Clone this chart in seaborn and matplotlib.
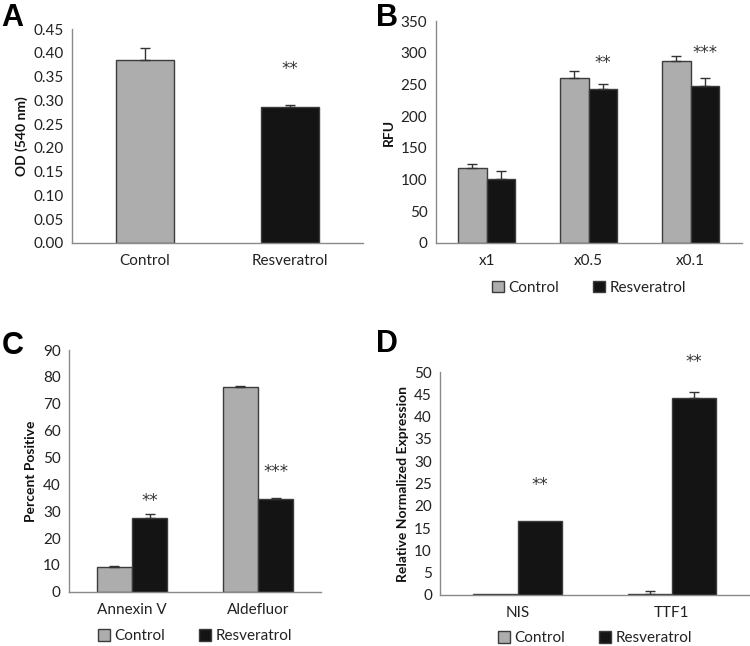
import numpy as np
import pandas as pd
import matplotlib
matplotlib.use('Agg')
import matplotlib.pyplot as plt
import matplotlib.patches as mpatches
import seaborn as sns

# ---- data ----
A_groups = ['Control', 'Resveratrol']
A_vals = [0.385, 0.287]
A_err = [0.026, 0.004]

B_groups = ['x1', 'x0.5', 'x0.1']
B_control = [118, 261, 288]
B_control_err = [7, 11, 8]
B_resv = [101, 243, 248]
B_resv_err = [13, 8, 13]

C_groups = ['Annexin V', 'Aldefluor']
C_control = [9.2, 76.4]
C_control_err = [0.5, 0.3]
C_resv = [27.5, 34.5]
C_resv_err = [1.5, 0.5]

D_groups = ['NIS', 'TTF1']
D_control = [0.3, 0.3]
D_control_err = [0.0, 0.5]
D_resv = [16.5, 44.1]
D_resv_err = [0.0, 1.5]

# significance marks: (hue index, category index, label, y)
A_stars = [(1, 0, '**', 0.366)]
B_stars = [(1, 1, '**', 284), (1, 2, '***', 300)]
C_stars = [(1, 0, '**', 33.8), (1, 1, '***', 44.6)]
D_stars = [(1, 0, '**', 24.7), (1, 1, '**', 52.2)]

TREAT = ['Control', 'Resveratrol']
PAL = {'Control': '#ADADAD', 'Resveratrol': '#141414'}
EDGE = '#3C3C3C'
SPINE = '#8A8A8A'

sns.set_theme(style='white')
plt.rcParams.update({
    'font.family': ['Lato', 'DejaVu Sans'],
    'axes.edgecolor': SPINE, 'axes.linewidth': 1.0,
    'xtick.color': SPINE, 'ytick.color': SPINE,
    'xtick.labelcolor': '#222222', 'ytick.labelcolor': '#222222',
    'xtick.labelsize': 11, 'ytick.labelsize': 11,
})


def long_df(groups, ctrl, resv):
    return pd.DataFrame({
        'group': list(groups) * 2,
        'treat': ['Control'] * len(groups) + ['Resveratrol'] * len(groups),
        'value': list(ctrl) + list(resv),
    })


def panel(ax, df, errs, width, ylim, yticks, fmt, ylabel, stars):
    sns.barplot(data=df, x='group', y='value', hue='treat', hue_order=TREAT,
                palette=PAL, width=width, edgecolor=EDGE, linewidth=1,
                ax=ax, legend=False, errorbar=None)
    centers = []
    for cont, err in zip(ax.containers, errs):
        cx = []
        for bar, e in zip(cont, err):
            x = bar.get_x() + bar.get_width() / 2
            h = bar.get_height()
            cx.append(x)
            if e > 0:
                ax.errorbar(x, h, yerr=[[0], [e]], fmt='none', ecolor='#333333',
                            elinewidth=1, capsize=3.5, capthick=1)
        centers.append(cx)
    for hi, ci, lab, y in stars:
        ax.text(centers[hi][ci], y, lab, ha='center', va='center', fontsize=12,
                family='DejaVu Sans', color='#333333', clip_on=False)
    n = df['group'].nunique()
    ax.set_xlim(-0.5, n - 0.5)
    ax.set_ylim(*ylim)
    ax.set_yticks(yticks)
    ax.set_yticklabels([fmt.format(t) for t in yticks])
    ax.set_xticks(np.arange(-0.5, n), minor=True)
    ax.tick_params(axis='x', which='major', length=0, pad=8)
    ax.tick_params(axis='x', which='minor', length=4, width=1, direction='out')
    ax.tick_params(axis='y', length=4, width=1, direction='out', pad=2)
    ax.set_xlabel('')
    ax.set_ylabel(ylabel, fontsize=10, fontweight='bold', color='#111111')
    sns.despine(ax=ax)


fig = plt.figure(figsize=(7.5, 6.46), dpi=100)
axA = fig.add_axes([0.096, 0.624, 0.388, 0.331])
axB = fig.add_axes([0.581, 0.624, 0.408, 0.343])
axC = fig.add_axes([0.092, 0.084, 0.336, 0.374])
axD = fig.add_axes([0.587, 0.079, 0.412, 0.345])

# A: one bar per category
dfA = pd.DataFrame({'group': A_groups, 'treat': A_groups, 'value': A_vals})
panel(axA, dfA, [[A_err[0]], [A_err[1]]], 0.4, (0, 0.45),
      np.round(np.arange(0, 0.451, 0.05), 2), '{:.2f}', 'OD (540 nm)', A_stars)

panel(axB, long_df(B_groups, B_control, B_resv), [B_control_err, B_resv_err], 0.56,
      (0, 350), np.arange(0, 351, 50), '{:.0f}', 'RFU', B_stars)
panel(axC, long_df(C_groups, C_control, C_resv), [C_control_err, C_resv_err], 0.56,
      (0, 90), np.arange(0, 91, 10), '{:.0f}', 'Percent Positive', C_stars)
panel(axD, long_df(D_groups, D_control, D_resv), [D_control_err, D_resv_err], 0.57,
      (0, 50), np.arange(0, 51, 5), '{:.0f}', 'Relative Normalized Expression', D_stars)

handles = [mpatches.Patch(facecolor=PAL[t], edgecolor=EDGE, linewidth=1, label=t) for t in TREAT]
for ax, yoff in ((axB, -0.122), (axC, -0.11), (axD, -0.115)):
    ax.legend(handles=handles, loc='upper center', bbox_to_anchor=(0.5, yoff),
              ncol=2, frameon=False, fontsize=11, handlelength=0.8, handleheight=0.8,
              handletextpad=0.3, columnspacing=2.2, labelcolor='#222222',
              borderpad=0.2)

for lab, x, y in [('A', 0.002, 0.995), ('B', 0.502, 0.995), ('C', 0.002, 0.487), ('D', 0.502, 0.49)]:
    fig.text(x, y, lab, fontsize=22, fontweight='bold', ha='left', va='top',
             family='Liberation Sans', color='#000000')

fig.savefig('out.png', dpi=100)
